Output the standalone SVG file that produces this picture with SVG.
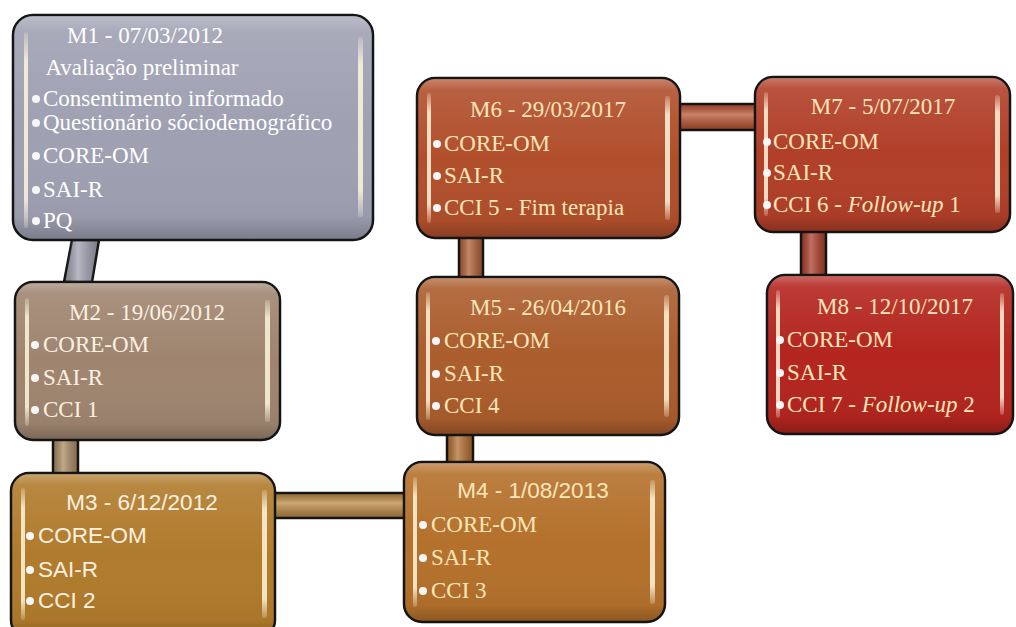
<svg xmlns="http://www.w3.org/2000/svg" width="1016" height="627" viewBox="0 0 1016 627">
<defs>
<linearGradient id="gloss" x1="0" y1="0" x2="0" y2="1">
<stop offset="0" stop-color="#ffffff" stop-opacity="0.3"/>
<stop offset="0.07" stop-color="#ffffff" stop-opacity="0.1"/>
<stop offset="0.5" stop-color="#ffffff" stop-opacity="0"/>
<stop offset="0.9" stop-color="#000000" stop-opacity="0.04"/>
<stop offset="1" stop-color="#000000" stop-opacity="0.22"/>
</linearGradient>
<linearGradient id="barH" x1="0" y1="0" x2="0" y2="1">
<stop offset="0" stop-color="#000000" stop-opacity="0.18"/>
<stop offset="0.4" stop-color="#ffffff" stop-opacity="0.28"/>
<stop offset="1" stop-color="#000000" stop-opacity="0.22"/>
</linearGradient>
<linearGradient id="barV" x1="0" y1="0" x2="1" y2="0">
<stop offset="0" stop-color="#000000" stop-opacity="0.18"/>
<stop offset="0.4" stop-color="#ffffff" stop-opacity="0.28"/>
<stop offset="1" stop-color="#000000" stop-opacity="0.22"/>
</linearGradient>
<linearGradient id="strip" x1="0" y1="0" x2="0" y2="1">
<stop offset="0" stop-color="#fff6dc" stop-opacity="0.2"/>
<stop offset="0.15" stop-color="#fff6dc" stop-opacity="0.85"/>
<stop offset="0.85" stop-color="#fff6dc" stop-opacity="0.85"/>
<stop offset="1" stop-color="#fff6dc" stop-opacity="0.2"/>
</linearGradient>
</defs>
<style>
.box{stroke:#151515;stroke-width:2.5}
.ov{fill:url(#gloss);stroke:none}
.st{fill:url(#strip)}
.bh{stroke:#151515;stroke-width:2.5}
.oh{fill:url(#barH)}
.ovv{fill:url(#barV)}
text{font-family:"Liberation Serif","Times New Roman",serif;font-size:23px;fill:#fde6b8}
.sans{font-family:"Liberation Sans",Arial,sans-serif;font-size:22.5px}
.m{text-anchor:middle}
.w text{fill:#ffffff}
.c text{fill:#fcf0e0}
.b{fill:#f6f6f6}
</style>
<rect width="1016" height="627" fill="#ffffff"/>
<g id="connectors">
<polygon class="bh" points="72,240 99,240 92,282 64,282" fill="#9d9dad"/>
<polygon class="ovv" points="72,240 99,240 92,282 64,282"/>
<rect class="bh" x="53" y="438" width="25" height="37" fill="#a8875f"/>
<rect class="ovv" x="53" y="438" width="25" height="37"/>
<rect class="bh" x="273" y="493" width="132" height="25" fill="#b7853f"/>
<rect class="oh" x="273" y="493" width="132" height="25"/>
<rect class="bh" x="447" y="433" width="26" height="31" fill="#b06a2c"/>
<rect class="ovv" x="447" y="433" width="26" height="31"/>
<rect class="bh" x="459" y="236" width="24" height="43" fill="#ad5a30"/>
<rect class="ovv" x="459" y="236" width="24" height="43"/>
<rect class="bh" x="678" y="104" width="79" height="26" fill="#b5502e"/>
<rect class="oh" x="678" y="104" width="79" height="26"/>
<rect class="bh" x="801" y="229" width="25" height="50" fill="#a83a26"/>
<rect class="ovv" x="801" y="229" width="25" height="50"/>
</g>
<g id="m1" class="w">
<rect class="box" x="13" y="15" width="360" height="225" rx="20" fill="#9fa1b3"/>
<rect class="ov" x="14" y="16" width="358" height="223" rx="19"/>
<rect class="st" x="24" y="32" width="4" height="196" rx="2"/>
<rect class="st" x="358" y="37" width="5" height="180" rx="2"/>
<text class="m" x="145" y="43">M1 - 07/03/2012</text>
<text class="m" x="142" y="75">Avaliação preliminar</text>
<circle class="b" cx="36" cy="99" r="4"/><text x="43" y="106">Consentimento informado</text>
<circle class="b" cx="36" cy="123" r="4"/><text x="43" y="130">Questionário sóciodemográfico</text>
<circle class="b" cx="36" cy="156" r="4"/><text x="43" y="163">CORE-OM</text>
<circle class="b" cx="36" cy="190" r="4"/><text x="43" y="197">SAI-R</text>
<circle class="b" cx="36" cy="221" r="4"/><text x="43" y="228">PQ</text>
</g>
<g id="m2" class="c">
<rect class="box" x="15" y="282" width="265" height="158" rx="18" fill="#9f8570"/>
<rect class="ov" x="16" y="283" width="263" height="156" rx="17"/>
<rect class="st" x="25" y="298" width="4" height="128" rx="2"/>
<rect class="st" x="265" y="300" width="5" height="122" rx="2"/>
<text class="m" x="147" y="320">M2 - 19/06/2012</text>
<circle class="b" cx="35" cy="345" r="4"/><text x="43" y="352">CORE-OM</text>
<circle class="b" cx="35" cy="378" r="4"/><text x="43" y="385">SAI-R</text>
<circle class="b" cx="35" cy="410" r="4"/><text x="43" y="417">CCI 1</text>
</g>
<g id="m3" class="c">
<rect class="box" x="11" y="473" width="264" height="165" rx="18" fill="#b07b2c"/>
<rect class="ov" x="12" y="474" width="262" height="163" rx="17"/>
<rect class="st" x="21" y="488" width="4" height="132" rx="2"/>
<rect class="st" x="262" y="490" width="5" height="128" rx="2"/>
<text class="m sans" x="142" y="510">M3 - 6/12/2012</text>
<circle class="b" cx="30" cy="536" r="4"/><text class="sans" x="38" y="543">CORE-OM</text>
<circle class="b" cx="30" cy="570" r="4"/><text class="sans" x="38" y="577">SAI-R</text>
<circle class="b" cx="30" cy="601" r="4"/><text class="sans" x="38" y="608">CCI 2</text>
</g>
<g id="m4">
<rect class="box" x="404" y="462" width="261" height="160" rx="18" fill="#b4712c"/>
<rect class="ov" x="405" y="463" width="259" height="158" rx="17"/>
<rect class="st" x="413" y="477" width="4" height="130" rx="2"/>
<rect class="st" x="650" y="480" width="5" height="124" rx="2"/>
<text class="m sans" x="533" y="498">M4 - 1/08/2013</text>
<circle class="b" cx="423" cy="525" r="4"/><text x="431" y="532">CORE-OM</text>
<circle class="b" cx="423" cy="558" r="4"/><text x="431" y="565">SAI-R</text>
<circle class="b" cx="423" cy="591" r="4"/><text x="431" y="598">CCI 3</text>
</g>
<g id="m5">
<rect class="box" x="417" y="277" width="262" height="158" rx="18" fill="#ab5d2d"/>
<rect class="ov" x="418" y="278" width="260" height="156" rx="17"/>
<rect class="st" x="426" y="292" width="4" height="128" rx="2"/>
<rect class="st" x="664" y="295" width="5" height="122" rx="2"/>
<text class="m" x="548" y="315">M5 - 26/04/2016</text>
<circle class="b" cx="436" cy="341" r="4"/><text x="444" y="348">CORE-OM</text>
<circle class="b" cx="436" cy="374" r="4"/><text x="444" y="381">SAI-R</text>
<circle class="b" cx="436" cy="406" r="4"/><text x="444" y="413">CCI 4</text>
</g>
<g id="m6">
<rect class="box" x="417" y="78" width="263" height="160" rx="18" fill="#b14f2c"/>
<rect class="ov" x="418" y="79" width="261" height="158" rx="17"/>
<rect class="st" x="427" y="93" width="4" height="130" rx="2"/>
<rect class="st" x="665" y="96" width="5" height="124" rx="2"/>
<text class="m" x="548" y="117">M6 - 29/03/2017</text>
<circle class="b" cx="437" cy="144" r="4"/><text x="444" y="151">CORE-OM</text>
<circle class="b" cx="437" cy="176" r="4"/><text x="444" y="183">SAI-R</text>
<circle class="b" cx="437" cy="208" r="4"/><text x="444" y="215">CCI 5 - Fim terapia</text>
</g>
<g id="m7">
<rect class="box" x="755" y="77" width="255" height="155" rx="18" fill="#b13f29"/>
<rect class="ov" x="756" y="78" width="253" height="153" rx="17"/>
<rect class="st" x="764" y="92" width="4" height="124" rx="2"/>
<rect class="st" x="995" y="95" width="5" height="118" rx="2"/>
<text class="m" x="883" y="114">M7 - 5/07/2017</text>
<circle class="b" cx="767" cy="142" r="4"/><text x="773" y="149">CORE-OM</text>
<circle class="b" cx="767" cy="173" r="4"/><text x="773" y="180">SAI-R</text>
<circle class="b" cx="767" cy="205" r="4"/><text x="773" y="212">CCI 6 - <tspan font-style="italic">Follow-up</tspan> 1</text>
</g>
<g id="m8">
<rect class="box" x="767" y="275" width="246" height="159" rx="18" fill="#b4251f"/>
<rect class="ov" x="768" y="276" width="244" height="157" rx="17"/>
<rect class="st" x="776" y="290" width="4" height="128" rx="2"/>
<rect class="st" x="1000" y="293" width="4" height="122" rx="2"/>
<text class="m" x="895" y="314">M8 - 12/10/2017</text>
<circle class="b" cx="780" cy="340" r="4"/><text x="787" y="347">CORE-OM</text>
<circle class="b" cx="780" cy="373" r="4"/><text x="787" y="380">SAI-R</text>
<circle class="b" cx="780" cy="405" r="4"/><text x="787" y="412">CCI 7 - <tspan font-style="italic">Follow-up</tspan> 2</text>
</g>
</svg>
